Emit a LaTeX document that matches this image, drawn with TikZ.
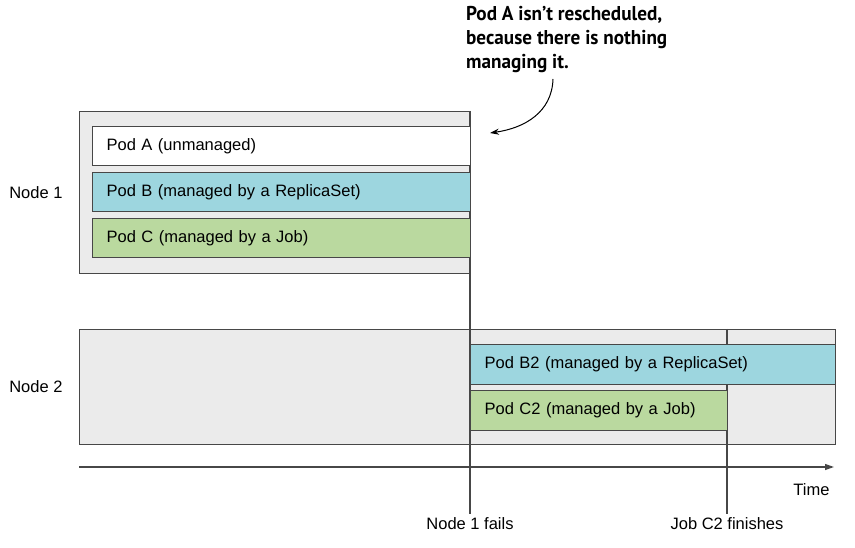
\documentclass[tikz,border=0pt]{standalone}
\usepackage{fontspec}
\setmainfont{Liberation Sans}
\newfontfamily\calloutfont{PT Sans}[FakeStretch=0.96]
\usetikzlibrary{positioning,arrows.meta}

\definecolor{nodegray}{HTML}{EBEBEB}
\definecolor{linegray}{HTML}{474747}
\definecolor{podblue}{HTML}{9DD6DF}
\definecolor{podgreen}{HTML}{BAD99F}

\begin{document}
\begin{tikzpicture}[x=1pt, y=-1pt, font=\fontsize{16.5}{20}\selectfont,
  nodebox/.style={draw=linegray, fill=nodegray, line width=1.2pt, inner sep=0pt, anchor=north west},
  pod/.style={draw=linegray, line width=1.2pt, inner xsep=14pt, inner ysep=0pt, anchor=north west, align=left},
  timeline/.style={draw=linegray, line width=1.2pt}]

\useasboundingbox ( 0, 0 ) rectangle ( 855, 548 );

% Nodes
\node (nodeone) at ( 79, 111 ) [nodebox, minimum width=391pt, minimum height=162pt] {};
\node (nodetwo) at ( 79, 329 ) [nodebox, minimum width=756pt, minimum height=115pt] {};
\node [left=13pt of nodeone] (nodeonetext) {Node 1};
\node [left=13pt of nodetwo] (nodetwotext) {Node 2};

% Events
\node (failtext) at ( 470, 524 ) {Node 1 fails};
\node (jobtext) at ( 727, 524 ) {Job C2 finishes};
\coordinate (failtop) at ( 470, 111 );
\coordinate (jobtop) at ( 727, 329 );
\draw [timeline] (failtop) -- (failtext.north);
\draw [timeline] (jobtop) -- (jobtext.north);

% Pods on node 1
\node (poda) at ( 92, 126 ) [pod, fill=white, minimum height=39pt, text width=350pt] {Pod A (unmanaged)};
\node (podb) at ( 92, 172 ) [pod, fill=podblue, minimum height=39pt, text width=350pt] {Pod B (managed by a ReplicaSet)};
\node (podc) at ( 92, 218 ) [pod, fill=podgreen, minimum height=39pt, text width=350pt] {Pod C (managed by a Job)};

% Pods on node 2
\node (podbtwo) at ( 470, 344 ) [pod, fill=podblue, minimum height=40pt, text width=337pt] {Pod B2 (managed by a ReplicaSet)};
\node (podctwo) at ( 470, 390 ) [pod, fill=podgreen, minimum height=40pt, text width=229pt] {Pod C2 (managed by a Job)};

% Time axis
\coordinate (axisstart) at ( 79, 467 );
\coordinate (axisend) at ( 834, 467 );
\draw [timeline, -{Triangle[length=9pt, width=6pt]}] (axisstart) -- (axisend);
\node (timetext) at ( 833, 490 ) [anchor=east] {Time};

% Callout
\node (callout) at ( 466, 6 ) [anchor=north west, inner sep=0pt, align=left,
  font=\calloutfont\bfseries\fontsize{20}{24}\selectfont]
  {Pod A isn’t rescheduled,\\because there is nothing\\managing it.};
\coordinate (calloutstart) at ( 553, 79 );
\coordinate (calloutend) at ( 490, 133 );
\draw [line width=1pt, -{Stealth[length=9pt, width=6pt]}] (calloutstart) .. controls ( 552, 112 ) and ( 525, 128 ) .. (calloutend);

\end{tikzpicture}
\end{document}
